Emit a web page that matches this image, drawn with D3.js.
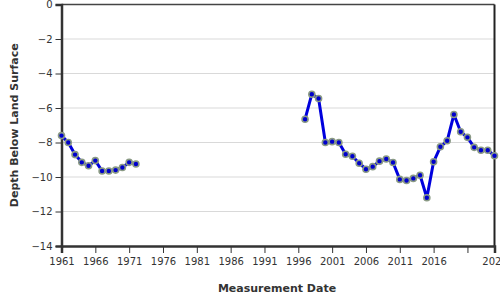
<!DOCTYPE html>
<html><head><meta charset="utf-8">
<script src="https://cdn.jsdelivr.net/npm/d3@7"></script>
<style>
body{margin:0;background:#fff;}
svg{font-family:"DejaVu Sans",sans-serif;}
</style></head>
<body>
<svg id="chart" width="500" height="300"></svg>
<script>
const years1 = [1961,1962,1963,1964,1965,1966,1967,1968,1969,1970,1971,1972];
const depth1 = [-7.6,-8.0,-8.7,-9.15,-9.35,-9.05,-9.65,-9.65,-9.6,-9.45,-9.15,-9.25];
const years2 = [1997,1998,1999,2000,2001,2002,2003,2004,2005,2006,2007,2008,2009,2010,2011,2012,2013,2014,2015,2016,2017,2018,2019,2020,2021,2022,2023,2024,2025];
const depth2 = [-6.65,-5.2,-5.45,-8.0,-7.95,-8.0,-8.68,-8.8,-9.2,-9.55,-9.4,-9.08,-8.96,-9.16,-10.14,-10.2,-10.08,-9.9,-11.2,-9.12,-8.25,-7.9,-6.38,-7.38,-7.7,-8.28,-8.45,-8.45,-8.77];
const xTicks = [1961,1966,1971,1976,1981,1986,1991,1996,2001,2006,2011,2016,2021,2025];
const xTickLabels = ["1961","1966","1971","1976","1981","1986","1991","1996","2001","2006","2011","2016","","2025"];
const yTicks = [0,-2,-4,-6,-8,-10,-12,-14];

const svg = d3.select("#chart");
const L=61.5, R=494.5, T=4.5, B=246;
const x = d3.scaleLinear().domain([1961,2025]).range([L,R]);
const y = d3.scaleLinear().domain([0,-14]).range([T,B]);

// gridlines
svg.append("g").selectAll("line").data(yTicks.filter(d=>d!==0 && d!==-14)).join("line")
  .attr("x1",L).attr("x2",R).attr("y1",d=>y(d)).attr("y2",d=>y(d))
  .attr("stroke","#d9d9d9").attr("stroke-width",1);

// frame top/right
svg.append("line").attr("x1",L).attr("x2",R).attr("y1",T).attr("y2",T).attr("stroke","#444").attr("stroke-width",1.5);
svg.append("line").attr("x1",R).attr("x2",R).attr("y1",T).attr("y2",B).attr("stroke","#222").attr("stroke-width",2);

// axes
const yAxis = svg.append("g").attr("transform",`translate(${L},0)`)
  .call(d3.axisLeft(y).tickValues(yTicks).tickSize(6).tickPadding(3).tickFormat(d3.format("d")));
const xAxis = svg.append("g").attr("transform",`translate(0,${B})`)
  .call(d3.axisBottom(x).tickValues(xTicks).tickSize(7).tickPadding(5).tickFormat((d,i)=>xTickLabels[i]));
[xAxis,yAxis].forEach(g=>{
  g.select(".domain").attr("stroke","#333").attr("stroke-width",2.5);
  g.selectAll(".tick line").attr("stroke","#333").attr("stroke-width",1);
  g.selectAll(".tick text").attr("fill","#333").attr("font-size","10px").attr("font-family","DejaVu Sans");
});

// series
const line = d3.line().x(d=>x(d[0])).y(d=>y(d[1]));
[[years1,depth1],[years2,depth2]].forEach(([ys,ds])=>{
  const pts = ys.map((yr,i)=>[yr,ds[i]]);
  svg.append("path").datum(pts).attr("d",line).attr("fill","none")
    .attr("stroke","#0000dd").attr("stroke-width",3).attr("stroke-linejoin","round");
  svg.append("g").selectAll("circle").data(pts).join("circle")
    .attr("cx",d=>x(d[0])).attr("cy",d=>y(d[1])).attr("r",3)
    .attr("fill","#0000cc").attr("stroke","#8a9a84").attr("stroke-width",1.6);
});

// labels
svg.append("text").attr("x",277).attr("y",292).attr("text-anchor","middle")
  .attr("font-size","11px").attr("font-weight","bold").attr("fill","#333").text("Measurement Date");
svg.append("text").attr("transform",`translate(18,${(T+B)/2}) rotate(-90)`).attr("text-anchor","middle")
  .attr("font-size","11px").attr("font-weight","bold").attr("fill","#333").text("Depth Below Land Surface");
</script>
</body></html>
